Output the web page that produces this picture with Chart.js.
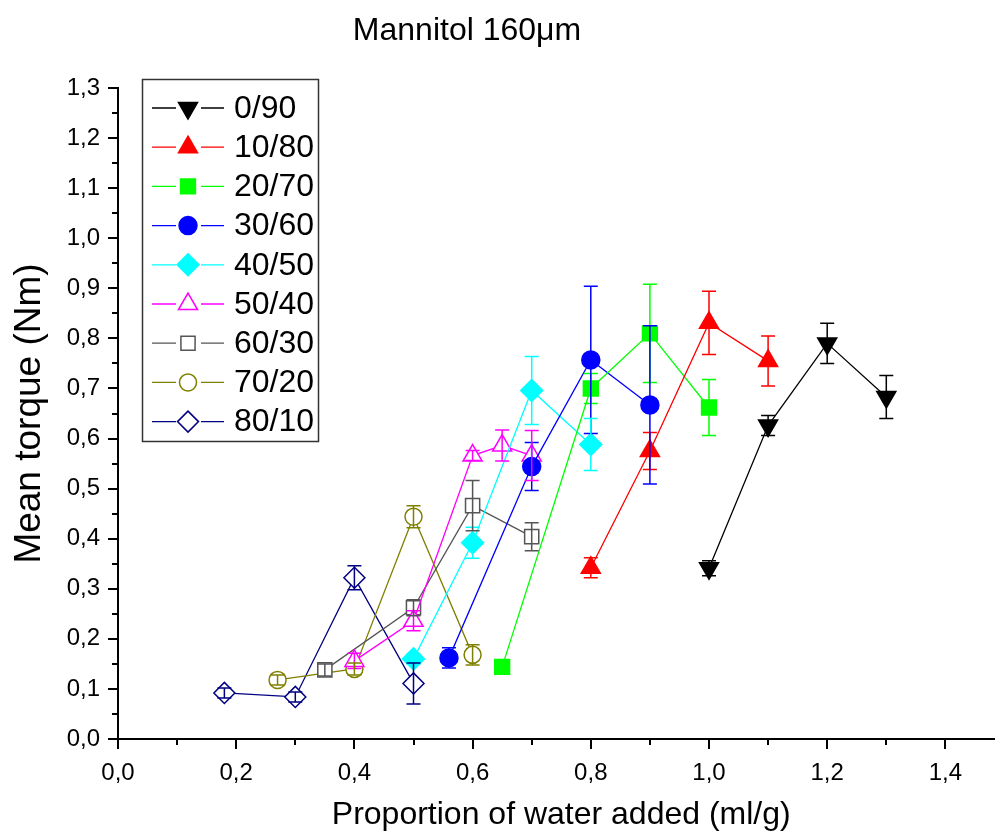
<!DOCTYPE html>
<html>
<head>
<meta charset="utf-8">
<script src="https://cdn.jsdelivr.net/npm/chart.js@4.4.1/dist/chart.umd.min.js"></script>
<style>
  html, body { margin: 0; padding: 0; background: #fff; overflow: hidden; }
  #wrap { width: 1017px; height: 837px; }
</style>
</head>
<body>
<div id="wrap"><canvas id="chart-torque" width="1017" height="837"></canvas></div>
<script>
// Data
const seriesNames = ['0/90', '10/80', '20/70', '30/60', '40/50', '50/40', '60/30', '70/20', '80/10'];

const water090 = [1.0, 1.1, 1.2, 1.3];
const torque090 = [0.341, 0.626, 0.790, 0.683];
const err090 = [0.015, 0.020, 0.040, 0.043];

const water1080 = [0.8, 0.9, 1.0, 1.1];
const torque1080 = [0.342, 0.575, 0.831, 0.755];
const err1080 = [0.020, 0.037, 0.063, 0.050];

const water2070 = [0.65, 0.8, 0.9, 1.0];
const torque2070 = [0.144, 0.700, 0.810, 0.662];
const err2070 = [0.012, 0.030, 0.098, 0.056];

const water3060 = [0.56, 0.7, 0.8, 0.9];
const torque3060 = [0.162, 0.544, 0.757, 0.667];
const err3060 = [0.020, 0.048, 0.147, 0.158];

const water4050 = [0.5, 0.6, 0.7, 0.8];
const torque4050 = [0.160, 0.392, 0.696, 0.588];
const err4050 = [0.010, 0.031, 0.068, 0.052];

const water5040 = [0.4, 0.5, 0.6, 0.65, 0.7];
const torque5040 = [0.156, 0.236, 0.566, 0.586, 0.566];
const err5040 = [0.015, 0.020, 0.010, 0.031, 0.050];

const water6030 = [0.35, 0.5, 0.6, 0.7];
const torque6030 = [0.138, 0.262, 0.466, 0.404];
const err6030 = [0.012, 0.016, 0.050, 0.028];

const water7020 = [0.27, 0.4, 0.5, 0.6];
const torque7020 = [0.118, 0.140, 0.444, 0.168];
const err7020 = [0.010, 0.012, 0.022, 0.020];

const water8010 = [0.18, 0.3, 0.4, 0.5];
const torque8010 = [0.092, 0.084, 0.322, 0.111];
const err8010 = [0.010, 0.010, 0.024, 0.041];

const xTicks = [0, 0.2, 0.4, 0.6, 0.8, 1.0, 1.2, 1.4];
const xMinorTicks = [0.1, 0.3, 0.5, 0.7, 0.9, 1.1, 1.3];
const yTicks = [0, 0.1, 0.2, 0.3, 0.4, 0.5, 0.6, 0.7, 0.8, 0.9, 1.0, 1.1, 1.2, 1.3];
const yMinorTicks = [0.05, 0.15, 0.25, 0.35, 0.45, 0.55, 0.65, 0.75, 0.85, 0.95, 1.05, 1.15, 1.25];

const allWater = [water090, water1080, water2070, water3060, water4050, water5040, water6030, water7020, water8010];
const allTorque = [torque090, torque1080, torque2070, torque3060, torque4050, torque5040, torque6030, torque7020, torque8010];
const allErr = [err090, err1080, err2070, err3060, err4050, err5040, err6030, err7020, err8010];

// Styles
const styles = [
    { color: '#000000', shape: 'triangle', rotation: 180, radius: 11, open: false },
    { color: '#ff0000', shape: 'triangle', rotation: 0, radius: 11, open: false },
    { color: '#00ff00', shape: 'rect', rotation: 0, radius: 10.5, open: false },
    { color: '#0000ff', shape: 'circle', rotation: 0, radius: 9, open: false },
    { color: '#00ffff', shape: 'rectRot', rotation: 0, radius: 11, open: false },
    { color: '#ff00ff', shape: 'triangle', rotation: 0, radius: 11, open: true },
    { color: '#555555', shape: 'rect', rotation: 0, radius: 10, open: true },
    { color: '#808000', shape: 'circle', rotation: 0, radius: 8.5, open: true },
    { color: '#000080', shape: 'rectRot', rotation: 0, radius: 10.5, open: true }
];

const FONT = '"Liberation Sans", Arial, sans-serif';
const fmt = v => v.toFixed(1).replace('.', ',');

const datasets = seriesNames.map(function (name, i) {
    const st = styles[i];
    return {
        label: name,
        data: allWater[i].map((x, j) => ({ x: x, y: allTorque[i][j] })),
        errors: allErr[i],
        borderColor: st.color,
        backgroundColor: st.color,
        borderWidth: 1.3,
        pointStyle: st.shape,
        pointRotation: st.rotation,
        pointRadius: st.radius,
        pointHoverRadius: st.radius,
        pointBorderWidth: 1.5,
        pointBorderColor: st.color,
        pointBackgroundColor: st.open ? '#ffffff' : st.color,
        showLine: true,
        tension: 0
    };
});

// error bars on top of the markers
const errorBarsPlugin = {
    id: 'errorBars',
    afterDatasetsDraw: function (chart) {
        const ctx = chart.ctx;
        const xs = chart.scales.x, ys = chart.scales.y;
        ctx.save();
        chart.data.datasets.forEach(function (ds) {
            ctx.strokeStyle = ds.borderColor;
            ctx.lineWidth = 1.5;
            ds.data.forEach(function (p, j) {
                const e = ds.errors[j];
                if (!e) return;
                const px = xs.getPixelForValue(p.x);
                const top = ys.getPixelForValue(p.y + e);
                const bot = ys.getPixelForValue(p.y - e);
                ctx.beginPath();
                ctx.moveTo(px, top); ctx.lineTo(px, bot);
                ctx.moveTo(px - 7, top); ctx.lineTo(px + 7, top);
                ctx.moveTo(px - 7, bot); ctx.lineTo(px + 7, bot);
                ctx.stroke();
            });
        });
        ctx.restore();
    }
};

// minor ticks, chart title and the boxed legend
const decorPlugin = {
    id: 'decor',
    afterDraw: function (chart) {
        const ctx = chart.ctx;
        const xs = chart.scales.x, ys = chart.scales.y;
        const area = chart.chartArea;
        ctx.save();
        ctx.strokeStyle = '#000';
        ctx.lineWidth = 2;
        ctx.beginPath();
        xMinorTicks.forEach(function (v) {
            const px = Math.round(xs.getPixelForValue(v));
            ctx.moveTo(px, area.bottom); ctx.lineTo(px, area.bottom + 6);
        });
        yMinorTicks.forEach(function (v) {
            const py = Math.round(ys.getPixelForValue(v));
            ctx.moveTo(area.left - 6, py); ctx.lineTo(area.left, py);
        });
        ctx.stroke();

        // title
        ctx.fillStyle = '#000';
        ctx.font = '32px ' + FONT;
        ctx.textAlign = 'center';
        ctx.textBaseline = 'middle';
        ctx.fillText('Mannitol 160\u03BCm', 467, 31);

        // legend
        const box = { left: 142.5, top: 79.5, width: 176, height: 362 };
        ctx.strokeStyle = '#333';
        ctx.lineWidth = 1.5;
        ctx.strokeRect(box.left, box.top, box.width, box.height);
        ctx.font = '32px ' + FONT;
        ctx.textAlign = 'left';
        chart.data.datasets.forEach(function (ds, i) {
            const st = styles[i];
            const y = 108 + i * 39.2;
            ctx.strokeStyle = st.color;
            ctx.lineWidth = 1.3;
            ctx.beginPath();
            ctx.moveTo(152, y); ctx.lineTo(176, y);
            ctx.moveTo(201, y); ctx.lineTo(224, y);
            ctx.stroke();
            ctx.lineWidth = 1.5;
            ctx.fillStyle = st.open ? '#ffffff' : st.color;
            if (Chart.helpers && Chart.helpers.drawPoint) {
                Chart.helpers.drawPoint(ctx, { pointStyle: st.shape, rotation: st.rotation, radius: st.radius, borderWidth: 1.5 }, 188, y);
            }
            ctx.fillStyle = '#000';
            ctx.fillText(ds.label, 234, y + 1);
        });
        ctx.restore();
    }
};

new Chart(document.getElementById('chart-torque'), {
    type: 'scatter',
    data: { datasets: datasets },
    options: {
        responsive: false,
        animation: false,
        devicePixelRatio: 1,
        layout: { padding: { top: 88, right: 0, left: 0, bottom: 0 } },
        plugins: {
            legend: { display: false },
            tooltip: { enabled: false }
        },
        scales: {
            x: {
                type: 'linear',
                min: 0,
                max: 1.5,
                afterBuildTicks: function (scale) { scale.ticks = xTicks.map(v => ({ value: v })); },
                afterFit: function (scale) { scale.height = 98; scale.paddingRight = 0; scale.paddingLeft = 0; },
                grid: { drawOnChartArea: false, drawTicks: true, tickLength: 10, color: '#000', lineWidth: 2 },
                border: { display: true, color: '#000', width: 2 },
                ticks: { color: '#000', font: { family: FONT, size: 24 }, padding: 10, maxRotation: 0, callback: fmt },
                title: { display: true, text: 'Proportion of water added (ml/g)', color: '#000', font: { family: FONT, size: 32 }, padding: { top: 0, bottom: 3 } }
            },
            y: {
                type: 'linear',
                min: 0,
                max: 1.3,
                afterBuildTicks: function (scale) { scale.ticks = yTicks.map(v => ({ value: v })); },
                afterFit: function (scale) { scale.width = 118; scale.paddingTop = 0; scale.paddingBottom = 0; },
                grid: { drawOnChartArea: false, drawTicks: true, tickLength: 10, color: '#000', lineWidth: 2 },
                border: { display: true, color: '#000', width: 2 },
                ticks: { color: '#000', font: { family: FONT, size: 24 }, padding: 8, callback: fmt },
                title: { display: true, text: 'Mean torque (Nm)', color: '#000', font: { family: FONT, size: 37 }, padding: { top: 8, bottom: 0 } }
            }
        }
    },
    plugins: [errorBarsPlugin, decorPlugin]
});
</script>
</body>
</html>
